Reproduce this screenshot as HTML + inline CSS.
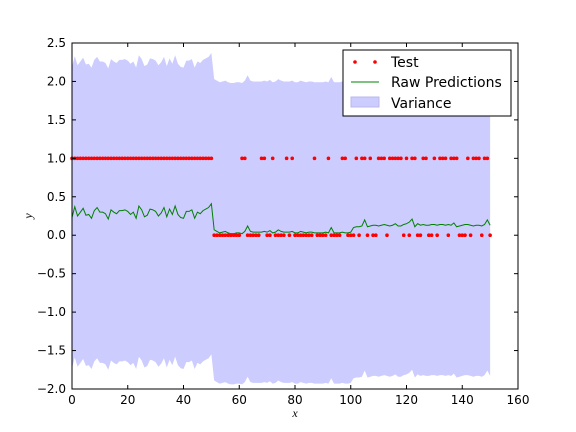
<!DOCTYPE html>
<html><head><meta charset="utf-8"><style>
body{margin:0;background:#fff}
svg{display:block;font-family:"DejaVu Sans","Liberation Sans",sans-serif}
</style></head><body>
<svg id="chart" width="576" height="432" xmlns="http://www.w3.org/2000/svg"></svg>
<script>
const xTicks=[0,20,40,60,80,100,120,140,160];
const yTicks=[-2.0,-1.5,-1.0,-0.5,0.0,0.5,1.0,1.5,2.0,2.5];
const predictions=[0.23,0.37,0.25,0.3,0.35,0.26,0.27,0.22,0.32,0.36,0.3,0.3,0.28,0.21,0.33,0.3,0.28,0.32,0.32,0.33,0.31,0.27,0.3,0.22,0.38,0.33,0.24,0.26,0.34,0.33,0.31,0.25,0.29,0.36,0.24,0.34,0.27,0.38,0.27,0.23,0.22,0.31,0.31,0.33,0.22,0.3,0.28,0.32,0.34,0.36,0.41,
0.07,0.05,0.03,0.04,0.05,0.03,0.02,0.02,0.03,0.03,0.02,0.05,0.12,0.05,0.04,0.04,0.04,0.04,0.05,0.04,0.06,0.03,0.04,0.07,0.05,0.04,0.04,0.04,0.05,0.03,0.03,0.05,0.04,0.03,0.04,0.04,0.03,0.03,0.03,0.03,0.04,0.03,0.1,0.03,0.03,0.03,0.04,0.03,0.03,
0.04,0.1,0.11,0.11,0.12,0.2,0.11,0.12,0.13,0.13,0.12,0.13,0.14,0.13,0.12,0.13,0.15,0.12,0.12,0.14,0.15,0.17,0.21,0.11,0.15,0.13,0.14,0.13,0.13,0.14,0.14,0.13,0.14,0.14,0.13,0.14,0.13,0.16,0.11,0.12,0.13,0.14,0.14,0.13,0.12,0.13,0.13,0.12,0.14,0.2,0.13];
const bandWidth=[1.96];
const testOnesSecondHalf=[61,62,68,69,72,77,79,87,92,97,98,102,104,105,107,110,111,112,114,115,116,117,118,120,122,123,126,127,130,132,133,134,136,137,138,142,144,145,146,148,149];
const testCount=[151];
const firstHalfEnd=[50];

const NS="http://www.w3.org/2000/svg";
const svg=document.getElementById('chart');
const L=72,R=518,T=43,B=389;
const X=v=>L+(v-0)/(160-0)*(R-L);
const Y=v=>B-(v+2)/(4.5)*(B-T);
function el(tag,attrs,parent){const e=document.createElementNS(NS,tag);for(const k in attrs)e.setAttribute(k,attrs[k]);(parent||svg).appendChild(e);return e;}

// band
let up=[],lo=[];
predictions.forEach((p,i)=>{up.push(X(i)+','+Y(p+bandWidth[0]));lo.unshift(X(i)+','+Y(p-bandWidth[0]));});
const band=el('polygon',{points:up.concat(lo).join(' '),fill:'#ccccff',stroke:'none'});



// predictions line
const line=el('polyline',{points:predictions.map((p,i)=>X(i)+','+Y(p)).join(' '),fill:'none',stroke:'#008000','stroke-width':1});



// test points
const tg=el('g',{fill:'#ff0000'});


for(let i=0;i<testCount[0];i++){
  const v=(i<=firstHalfEnd[0]||testOnesSecondHalf.includes(i))?1:0;
  const c=el('circle',{cx:X(i),cy:Y(v),r:1.8},tg);
  
  
}

// axes frame
const frame=el('rect',{x:L,y:T,width:R-L,height:B-T,fill:'none',stroke:'#000','stroke-width':1});



xTicks.forEach(t=>{
  const x=X(t);
  el('line',{x1:x,x2:x,y1:B,y2:B-4,stroke:'#000'});
  el('line',{x1:x,x2:x,y1:T,y2:T+4,stroke:'#000'});
  const tx=el('text',{x:x,y:B+15,'text-anchor':'middle','font-size':12});
  tx.textContent=t;
  
  
});
yTicks.forEach(t=>{
  const y=Y(t);
  el('line',{x1:L,x2:L+4,y1:y,y2:y,stroke:'#000'});
  el('line',{x1:R,x2:R-4,y1:y,y2:y,stroke:'#000'});
  const tx=el('text',{x:L-6,y:y+4,'text-anchor':'end','font-size':12});
  tx.textContent=t.toFixed(1).replace('-','\u2212');
  
  
});

const xl=el('text',{x:295,y:417,'text-anchor':'middle','font-size':12,'font-style':'italic','font-family':'Liberation Serif,serif'});
xl.textContent='x';


const yl=el('text',{x:32,y:216,'text-anchor':'middle','font-size':12,'font-style':'italic','font-family':'Liberation Serif,serif',transform:'rotate(-90 32 216)'});
yl.textContent='y';



// legend
const lg=el('g',{});


el('rect',{x:343,y:50,width:168,height:66,fill:'#fff',stroke:'#000'},lg);
el('circle',{cx:355,cy:62,r:1.8,fill:'#ff0000'},lg);
el('circle',{cx:375,cy:62,r:1.8,fill:'#ff0000'},lg);
el('line',{x1:351,x2:379,y1:82,y2:82,stroke:'#008000'},lg);
el('rect',{x:351,y:97,width:28,height:10,fill:'#ccccff',stroke:'#b8b8ee'},lg);
[['Test',67,'legend-entry-test'],['Raw Predictions',87,'legend-entry-raw-predictions'],['Variance',108,'legend-entry-variance']].forEach(d=>{
  const t=el('text',{x:391,y:d[1],'font-size':14},lg);
  t.textContent=d[0];
  
  
});
</script>
</body></html>
